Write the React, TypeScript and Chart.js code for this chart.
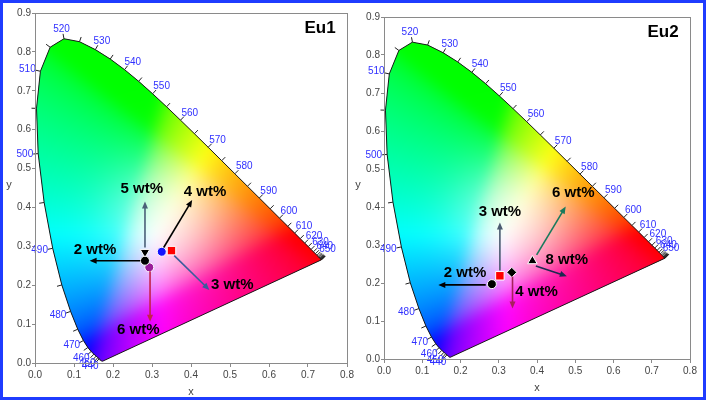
import React, { useEffect, useRef } from "react";
import { Chart, registerables } from "chart.js";
Chart.register(...registerables);

// CIE 1931 2° spectral locus (5 nm steps)
const LOCUS_NM = [380,385,390,395,400,405,410,415,420,425,430,435,440,445,450,455,460,465,470,475,480,485,490,495,500,505,510,515,520,525,530,535,540,545,550,555,560,565,570,575,580,585,590,595,600,605,610,615,620,625,630,635,640,645,650,655,660,665,670,675,680,685,690,695,700];
const LOCUS_X = [0.17411,0.17401,0.1738,0.17356,0.17334,0.17302,0.17258,0.17209,0.17141,0.1703,0.16888,0.1669,0.16441,0.1611,0.15664,0.15099,0.14396,0.1355,0.12412,0.10959,0.09129,0.06871,0.04539,0.02346,0.00817,0.00386,0.01387,0.03885,0.0743,0.11416,0.15472,0.19288,0.22962,0.26578,0.3016,0.33736,0.3731,0.40874,0.44406,0.47877,0.51249,0.54479,0.57515,0.60293,0.62704,0.64823,0.66576,0.68008,0.6915,0.70061,0.70792,0.71403,0.71903,0.72303,0.72599,0.72827,0.72997,0.73109,0.73199,0.73272,0.73342,0.73405,0.73439,0.73459,0.73469];
const LOCUS_Y = [0.00496,0.00498,0.00492,0.00492,0.0048,0.00478,0.0048,0.00483,0.0051,0.00579,0.0069,0.00855,0.01086,0.01379,0.01771,0.02274,0.0297,0.03988,0.0578,0.08684,0.1327,0.20072,0.29498,0.4127,0.53842,0.65482,0.75019,0.81202,0.8338,0.82621,0.80586,0.78163,0.75433,0.72432,0.69231,0.65885,0.62445,0.58961,0.55471,0.5202,0.48659,0.45443,0.42423,0.3965,0.37249,0.35139,0.33401,0.31975,0.30834,0.2993,0.29203,0.28593,0.28093,0.27695,0.27401,0.27173,0.27003,0.26891,0.26801,0.26728,0.26658,0.26595,0.26561,0.26541,0.26531];
const WL_LABELS = [440,450,460,470,480,490,500,510,520,530,540,550,560,570,580,590,600,610,620,630,640,650];
const WL_TICK_FROM = 440;

// Eu1 panel
const EU1_MARK_X = [0.282, 0.282, 0.325, 0.350, 0.293];
const EU1_MARK_Y = [0.263, 0.285, 0.286, 0.289, 0.246];
const EU1_MARK_STYLE = ["circle", "triangle", "circle", "rect", "circle"];
const EU1_MARK_ROT = [0, 180, 0, 0, 0];
const EU1_MARK_COLOR = ["#000000", "#000000", "#1414ff", "#ff0000", "#9b1d9b"];
const EU1_ARROW_X0 = [0.270, 0.282, 0.330, 0.357, 0.295];
const EU1_ARROW_Y0 = [0.263, 0.297, 0.297, 0.276, 0.236];
const EU1_ARROW_X1 = [0.140, 0.282, 0.403, 0.447, 0.295];
const EU1_ARROW_Y1 = [0.263, 0.415, 0.419, 0.188, 0.106];
const EU1_ARROW_COLOR = ["#000000", "#4a6078", "#000000", "#3a5c9c", "#c4224c"];
const EU1_LABEL_TEXT = ["2 wt%", "5 wt%", "4 wt%", "3 wt%", "6 wt%"];
const EU1_LABEL_X = [0.154, 0.274, 0.436, 0.506, 0.265];
const EU1_LABEL_Y = [0.290, 0.447, 0.440, 0.200, 0.084];

// Eu2 panel
const EU2_MARK_X = [0.282, 0.303, 0.334, 0.388];
const EU2_MARK_Y = [0.197, 0.219, 0.228, 0.258];
const EU2_MARK_STYLE = ["circle", "rect", "rectRot", "triangle"];
const EU2_MARK_ROT = [0, 0, 0, 0];
const EU2_MARK_COLOR = ["#000000", "#ff0000", "#000000", "#000000"];
const EU2_ARROW_X0 = [0.266, 0.303, 0.336, 0.399, 0.397];
const EU2_ARROW_Y0 = [0.195, 0.233, 0.217, 0.274, 0.245];
const EU2_ARROW_X1 = [0.142, 0.303, 0.336, 0.475, 0.478];
const EU2_ARROW_Y1 = [0.195, 0.359, 0.133, 0.401, 0.218];
const EU2_ARROW_COLOR = ["#000000", "#4a5a70", "#a8205c", "#1a7a5c", "#1c2a50"];
const EU2_LABEL_TEXT = ["2 wt%", "3 wt%", "4 wt%", "6 wt%", "8 wt%"];
const EU2_LABEL_X = [0.212, 0.303, 0.399, 0.495, 0.478];
const EU2_LABEL_Y = [0.227, 0.388, 0.176, 0.436, 0.260];

const FONT = '"Liberation Sans", Arial, sans-serif';

function gammaC(c: number) {
  return c <= 0.0031308 ? 12.92 * c : 1.055 * Math.pow(c, 1 / 2.4) - 0.055;
}
function xyToRgb(x: number, y: number): [number, number, number] {
  const yy = Math.max(y, 0.003);
  const xx = Math.min(Math.max(x, 0.001), 0.75);
  const X = xx / yy, Y = 1, Z = Math.max(1 - xx - yy, 0) / yy;
  let r = 3.2406 * X - 1.5372 * Y - 0.4986 * Z;
  let g = -0.9689 * X + 1.8758 * Y + 0.0415 * Z;
  let b = 0.0557 * X - 0.204 * Y + 1.057 * Z;
  r = Math.max(r, 0); g = Math.max(g, 0); b = Math.max(b, 0);
  const m = Math.max(r, g, b, 1e-6);
  let R = gammaC(r / m), G = gammaC(g / m), B = gammaC(b / m);
  // broaden the whitish centre
  const d2 = (xx - 0.33) ** 2 + (yy - 0.37) ** 2;
  const w = 0.6 * Math.exp(-d2 / (2 * 0.1 * 0.1));
  R = R + (1 - R) * w; G = G + (1 - G) * w; B = B + (1 - B) * w;
  return [R * 255, G * 255, B * 255];
}

type PanelCfg = {
  title: string;
  markX: number[]; markY: number[]; markStyle: string[]; markRot: number[]; markColor: string[];
  arX0: number[]; arY0: number[]; arX1: number[]; arY1: number[]; arColor: string[];
  lbText: string[]; lbX: number[]; lbY: number[];
  yWidth: number; xHeight: number; pad: { left: number; right: number; top: number; bottom: number };
};

const MARGIN = 24;

const ciePlugin = {
  id: "cie",
  beforeDatasetsDraw(chart: any) {
    const { ctx, chartArea } = chart;
    const xs = chart.scales.x, ys = chart.scales.y;
    const left = Math.floor(chartArea.left) - MARGIN, top = Math.floor(chartArea.top) - MARGIN;
    const w = Math.ceil(chartArea.right) + MARGIN - left, h = Math.ceil(chartArea.bottom) + MARGIN - top;
    const off = document.createElement("canvas");
    off.width = w; off.height = h;
    const octx = off.getContext("2d")!;
    const img = octx.createImageData(w, h);
    for (let py = 0; py < h; py++) {
      const yv = ys.getValueForPixel(top + py + 0.5);
      for (let px = 0; px < w; px++) {
        const xv = xs.getValueForPixel(left + px + 0.5);
        const [r, g, b] = xyToRgb(xv, yv);
        const k = (py * w + px) * 4;
        img.data[k] = r; img.data[k + 1] = g; img.data[k + 2] = b; img.data[k + 3] = 255;
      }
    }
    octx.putImageData(img, 0, 0);
    const off2 = document.createElement("canvas");
    off2.width = w; off2.height = h;
    const o2 = off2.getContext("2d")!;
    o2.filter = "blur(7px)";
    o2.drawImage(off, 0, 0);
    ctx.save();
    ctx.beginPath();
    LOCUS_X.forEach((x, i) => {
      const px = xs.getPixelForValue(x), py = ys.getPixelForValue(LOCUS_Y[i]);
      if (i === 0) ctx.moveTo(px, py); else ctx.lineTo(px, py);
    });
    ctx.closePath();
    ctx.clip();
    ctx.drawImage(off, left, top, w, h);
    ctx.drawImage(off2, MARGIN / 2, MARGIN / 2, w - MARGIN, h - MARGIN, left + MARGIN / 2, top + MARGIN / 2, w - MARGIN, h - MARGIN);
    ctx.restore();
  },
  afterDatasetsDraw(chart: any, _a: any, opts: any) {
    const cfg: PanelCfg = opts.cfg;
    const { ctx } = chart;
    const xs = chart.scales.x, ys = chart.scales.y;
    const P = (x: number, y: number) => [xs.getPixelForValue(x), ys.getPixelForValue(y)];
    const [cx, cy] = P(0.33, 0.33);
    ctx.save();
    // wavelength ticks and labels
    ctx.font = `10px ${FONT}`;
    ctx.textAlign = "center";
    ctx.textBaseline = "middle";
    for (let i = 0; i < LOCUS_NM.length; i++) {
      const nm = LOCUS_NM[i];
      if (nm < WL_TICK_FROM) continue;
      const [px, py] = P(LOCUS_X[i], LOCUS_Y[i]);
      const a = P(LOCUS_X[Math.max(i - 1, 0)], LOCUS_Y[Math.max(i - 1, 0)]);
      const b = P(LOCUS_X[Math.min(i + 1, LOCUS_NM.length - 1)], LOCUS_Y[Math.min(i + 1, LOCUS_NM.length - 1)]);
      let tx = b[0] - a[0], ty = b[1] - a[1];
      const tl = Math.hypot(tx, ty) || 1;
      tx /= tl; ty /= tl;
      let nx = -ty, ny = tx;
      if (nx * (px - cx) + ny * (py - cy) < 0) { nx = -nx; ny = -ny; }
      ctx.strokeStyle = "#222";
      ctx.lineWidth = 1;
      ctx.beginPath();
      ctx.moveTo(px, py);
      ctx.lineTo(px + nx * 5, py + ny * 5);
      ctx.stroke();
      if (WL_LABELS.includes(nm)) {
        const txt = String(nm);
        const tw = ctx.measureText(txt).width;
        const lx = px + nx * 5 + nx * tw / 2;
        const ly = py + ny * 5 + ny * 5;
        ctx.fillStyle = "#3030ff";
        ctx.fillText(txt, lx, ly);
      }
    }
    // arrows
    cfg.arX0.forEach((x0, i) => {
      const [x1p, y1p] = P(x0, cfg.arY0[i]);
      const [x2p, y2p] = P(cfg.arX1[i], cfg.arY1[i]);
      const col = cfg.arColor[i];
      const ang = Math.atan2(y2p - y1p, x2p - x1p);
      const L = 7, W = 3;
      ctx.strokeStyle = col; ctx.fillStyle = col; ctx.lineWidth = 1.6;
      ctx.beginPath();
      ctx.moveTo(x1p, y1p);
      ctx.lineTo(x2p - Math.cos(ang) * L * 0.8, y2p - Math.sin(ang) * L * 0.8);
      ctx.stroke();
      ctx.beginPath();
      ctx.moveTo(x2p, y2p);
      ctx.lineTo(x2p - Math.cos(ang) * L - Math.sin(ang) * W, y2p - Math.sin(ang) * L + Math.cos(ang) * W);
      ctx.lineTo(x2p - Math.cos(ang) * L + Math.sin(ang) * W, y2p - Math.sin(ang) * L - Math.cos(ang) * W);
      ctx.closePath();
      ctx.fill();
    });
    // text labels
    ctx.fillStyle = "#000";
    ctx.font = `bold 15px ${FONT}`;
    cfg.lbText.forEach((t, i) => {
      const [lx, ly] = P(cfg.lbX[i], cfg.lbY[i]);
      ctx.fillText(t, lx, ly);
    });
    ctx.restore();
  },
  afterDraw(chart: any, _a: any, opts: any) {
    const cfg: PanelCfg = opts.cfg;
    const { ctx, chartArea } = chart;
    ctx.save();
    ctx.strokeStyle = "#8a8a8a";
    ctx.lineWidth = 1;
    ctx.strokeRect(Math.round(chartArea.left) + 0.5, Math.round(chartArea.top) + 0.5,
      Math.round(chartArea.right - chartArea.left), Math.round(chartArea.bottom - chartArea.top));
    ctx.fillStyle = "#000";
    ctx.font = `bold 17px ${FONT}`;
    ctx.textAlign = "center";
    ctx.textBaseline = "middle";
    ctx.fillText(cfg.title, chartArea.right - 27, chartArea.top + 15);
    ctx.fillStyle = "#444";
    ctx.font = `11px ${FONT}`;
    ctx.fillText("x", (chartArea.left + chartArea.right) / 2, chartArea.bottom + 29);
    ctx.fillText("y", chartArea.left - 26, (chartArea.top + chartArea.bottom) / 2 - 3);
    ctx.restore();
  },
};

function Panel({ cfg, left, width }: { cfg: PanelCfg; left: number; width: number }) {
  const ref = useRef<HTMLCanvasElement>(null);
  useEffect(() => {
    const locus = LOCUS_X.map((x, i) => ({ x, y: LOCUS_Y[i] }));
    locus.push({ x: LOCUS_X[0], y: LOCUS_Y[0] });
    const marks = cfg.markX.map((x, i) => ({
      label: "m" + i,
      data: [{ x, y: cfg.markY[i] }],
      pointStyle: cfg.markStyle[i] as any,
      rotation: cfg.markRot[i],
      pointRotation: cfg.markRot[i],
      backgroundColor: cfg.markColor[i],
      borderColor: "#ffffff",
      borderWidth: 1,
      pointRadius: cfg.markStyle[i] === "rect" ? 6 : cfg.markStyle[i] === "triangle" ? 5.5 : cfg.markStyle[i] === "rectRot" ? 5 : 4.5,
      order: 0,
    }));
    const chart = new Chart(ref.current!, {
      type: "scatter",
      data: {
        datasets: [
          ...marks,
          {
            label: "locus",
            data: locus,
            showLine: true,
            borderColor: "#1a1a1a",
            borderWidth: 1,
            pointRadius: 0,
            order: 10,
          } as any,
        ],
      },
      options: {
        animation: false,
        responsive: false,
        maintainAspectRatio: false,
        layout: { padding: cfg.pad },
        plugins: {
          legend: { display: false },
          tooltip: { enabled: false },
          cie: { cfg },
        } as any,
        scales: {
          x: {
            type: "linear",
            min: 0,
            max: 0.8,
            ticks: {
              stepSize: 0.1,
              callback: (v: any) => Number(v).toFixed(1),
              color: "#444",
              font: { size: 10, family: FONT },
              padding: 2,
              maxRotation: 0,
            },
            grid: { drawOnChartArea: false, drawTicks: true, tickLength: 4, color: "#8a8a8a" },
            border: { display: false },
            afterFit: (s: any) => { s.height = cfg.xHeight; s.paddingLeft = 0; s.paddingRight = 0; },
          },
          y: {
            type: "linear",
            min: 0,
            max: 0.9,
            ticks: {
              stepSize: 0.1,
              callback: (v: any) => Number(v).toFixed(1),
              color: "#444",
              font: { size: 10, family: FONT },
              padding: 1,
            },
            grid: { drawOnChartArea: false, drawTicks: true, tickLength: 3, color: "#8a8a8a" },
            border: { display: false },
            afterFit: (s: any) => { s.width = cfg.yWidth; s.paddingTop = 0; s.paddingBottom = 0; },
          },
        },
      },
      plugins: [ciePlugin as any],
    });
    return () => chart.destroy();
  }, []);
  return (
    <canvas
      ref={ref}
      width={width}
      height={402}
      style={{ position: "absolute", left, top: 0, width, height: 402, display: "block" }}
    />
  );
}

const EU1_CFG: PanelCfg = {
  title: "Eu1",
  markX: EU1_MARK_X, markY: EU1_MARK_Y, markStyle: EU1_MARK_STYLE, markRot: EU1_MARK_ROT, markColor: EU1_MARK_COLOR,
  arX0: EU1_ARROW_X0, arY0: EU1_ARROW_Y0, arX1: EU1_ARROW_X1, arY1: EU1_ARROW_Y1, arColor: EU1_ARROW_COLOR,
  lbText: EU1_LABEL_TEXT, lbX: EU1_LABEL_X, lbY: EU1_LABEL_Y,
  yWidth: 35, xHeight: 39, pad: { left: 0, right: 7, top: 13, bottom: 0 },
};
const EU2_CFG: PanelCfg = {
  title: "Eu2",
  markX: EU2_MARK_X, markY: EU2_MARK_Y, markStyle: EU2_MARK_STYLE, markRot: EU2_MARK_ROT, markColor: EU2_MARK_COLOR,
  arX0: EU2_ARROW_X0, arY0: EU2_ARROW_Y0, arX1: EU2_ARROW_X1, arY1: EU2_ARROW_Y1, arColor: EU2_ARROW_COLOR,
  lbText: EU2_LABEL_TEXT, lbX: EU2_LABEL_X, lbY: EU2_LABEL_Y,
  yWidth: 30, xHeight: 43, pad: { left: 0, right: 18, top: 17, bottom: 0 },
};

export default function App() {
  return (
    <div style={{ position: "absolute", left: 0, top: 0, width: 708, height: 402, background: "#fff", overflow: "hidden" }}>
      <Panel cfg={EU1_CFG} left={0} width={354} />
      <Panel cfg={EU2_CFG} left={354} width={354} />
      <div
        style={{
          position: "absolute", left: 0, top: 0, width: 706, height: 400,
          boxSizing: "border-box", border: "3px solid #1f3cff", pointerEvents: "none",
        }}
      />
    </div>
  );
}
